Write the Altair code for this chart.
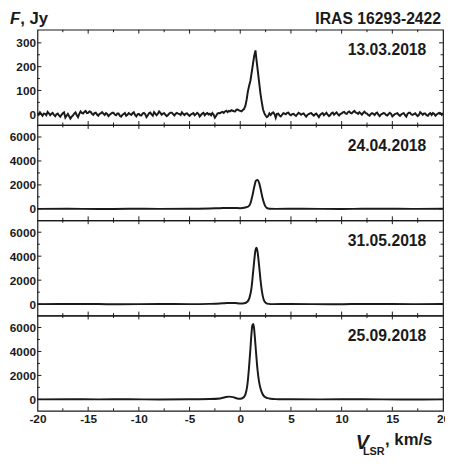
import altair as alt
import pandas as pd

FONT = "Liberation Sans"
INK = "#1a1a1a"
W, H = 413, 97

# ---- axis ticks / labels ----
X_LABELS = [-20, -15, -10, -5, 0, 5, 10, 15, 20]
X_TICK_MAJOR = [-15, -10, -5, 0, 5, 10, 15]
X_TICK_MINOR = [-17.5, -12.5, -7.5, -2.5, 2.5, 7.5, 12.5, 17.5]

Y1_MAJOR = [0, 100, 200, 300]
Y1_MINOR = [50, 150, 250]
Y1_DOMAIN = [-45, 355]
YB_MAJOR = [0, 2000, 4000, 6000]
YB_MINOR = [1000, 3000, 5000]
YB_DOMAIN = [-950, 7000]

DATES = ["13.03.2018", "24.04.2018", "31.05.2018", "25.09.2018"]
SOURCE = "IRAS 16293-2422"

# ---- spectrum 13.03.2018 : flux (Jy) on a 0.125 km/s channel grid from -20 km/s ----
P1_F = [
    5, -2, 8, 1, -6, 3, 2, -4,            # -20
    10, 4, -4, 2, 6, -3, -8, 0,           # -19
    3, -5, -10, -2, 4, 8, -14, -6,        # -18
    2, -8, -18, -10, -5, 3, 8, -4,        # -17
    -12, 2, 12, 6, 3, 10, 14, 5,          # -16
    6, 12, 10, 2, -2, 5, 7, -1,           # -15
    -6, 2, 4, 9, 3, -3, 5, 1,             # -14
    -8, -2, 2, 6, 6, -1, -4, 3,           # -13
    3, -6, -10, -3, 1, 5, -6, -2,         # -12
    5, 1, -3, 4, 8, -3, -9, 0,            # -11
    2, -4, -5, 3, 6, 1, -12, -5,          # -10
    4, 7, 0, -6, 9, 3, -4, 2,             # -9
    12, 6, -2, 3, 5, -2, -8, -3,          # -8
    3, 7, 7, 1, -5, 2, 6, 3,              # -7
    1, -3, 8, 2, -3, 3, 4, -2,            # -6
    -7, -1, 2, 5, -4, 0, 6, 2,            # -5
    -9, -3, 3, 6, -4, 2, 5, -1,           # -4
    2, -4, 5, -2, -14, -6, 3, 5,          # -3
    4, 8, 10, 6, 12, 15, 9, 14,           # -2
    12, 17, 15, 13, 12, 19, 20, 16,       # -1
    14, 12, 18, 22, 35, 60, 95, 120,      # 0
    140, 175, 210, 245, 268, 220, 175, 130,  # 1
    85, 50, 20, 5, -5, -12, -8, 4,        # 2
    -3, 4, 8, 1, -15, 2, 3, -5,           # 3
    -9, -2, 5, 3, 0, 6, 7, -1,            # 4
    -4, 1, 2, -3, -7, 0, 6, 3,            # 5
    -2, 2, 4, -4, -10, -3, 1, 4,          # 6
    5, -1, -6, 0, 3, -4, -12, -3,         # 7
    2, 5, -4, 1, 6, -2, -8, -3,           # 8
    4, 7, -2, 3, 8, 1, -5, 2,             # 9
    3, 8, 10, 4, 2, 9, 12, 6,             # 10
    4, 10, 14, 8, 6, 2, 9, 4,             # 11
    -2, 6, 11, 5, 3, -3, -6, 1,           # 12
    5, 2, -3, 4, 7, -2, -8, -1,           # 13
    2, 5, 4, -3, -5, 1, 6, 2,             # 14
    -9, -4, 1, 3, 5, -2, -7, -1,          # 15
    3, 5, -4, -10, 2, 6, 6, -1,           # 16
    -3, 1, 4, -2, -8, -3, 9, 4,           # 17
    -2, 3, 3, -4, -6, 1, 5, -3,           # 18
    5, 2, -6, -1, 3, 6, 5, -2,            # 19
    5,                                    # 20
]
P1_V = [-20 + 0.125 * i for i in range(len(P1_F))]

# ---- spectrum 24.04.2018 ----
P2_V = [-20, -17, -14, -11, -8, -5, -3, -2, -1, -0.5, 0, 0.5, 0.8, 1.0, 1.2, 1.4, 1.55,
        1.7, 1.85, 2.0, 2.2, 2.4, 2.6, 2.9, 3.5, 6, 10, 14, 17, 20]
P2_F = [0, 10, -10, 5, 0, 10, 30, 60, 80, 70, 60, 120, 200, 450, 1100, 1900, 2350,
        2420, 2200, 1700, 900, 350, 80, 10, 0, 5, -5, 10, 0, 5]

# ---- spectrum 31.05.2018 ----
P3_V = [-20, -16, -12, -8, -5, -3, -2, -1.5, -1, -0.5, 0, 0.4, 0.7, 0.9, 1.1, 1.25, 1.4,
        1.5, 1.6, 1.7, 1.85, 2.0, 2.15, 2.3, 2.5, 2.8, 3.2, 5, 9, 13, 17, 20]
P3_F = [0, 10, -5, 5, 0, 20, 50, 80, 100, 90, 60, 80, 200, 500, 1300, 2500, 3800,
        4500, 4700, 4400, 3300, 2000, 1000, 400, 120, 20, 0, 5, -5, 10, 0, 5]

# ---- spectrum 25.09.2018 ----
P4_V = [-20, -17, -14, -11, -8, -5, -3, -2, -1.5, -1.1, -0.7, -0.3, 0, 0.3, 0.5, 0.7,
        0.85, 1.0, 1.1, 1.2, 1.3, 1.4, 1.55, 1.7, 1.85, 2.0, 2.2, 2.4, 2.7, 3.0, 3.5,
        5, 8, 12, 16, 20]
P4_F = [0, 10, 0, 5, -5, 10, 30, 80, 180, 230, 190, 80, 60, 150, 400, 1200,
        2500, 4200, 5400, 6200, 6300, 5600, 4000, 2500, 1500, 900, 450, 220, 100, 50, 20,
        10, 0, 5, -5, 0]


def txt(s, x, y, size, align="right", style="normal"):
    return alt.Chart(pd.DataFrame({"t": [s]})).mark_text(
        align=align, baseline="alphabetic", font=FONT, fontSize=size,
        fontWeight="bold", fontStyle=style, color=INK
    ).encode(text="t:N", x=alt.value(x), y=alt.value(y))


def panel(v, f, ydom, ymaj, ymin, date, interp, stroke, top=False, bottom=False):
    xs = alt.Scale(domain=[-20, 20], nice=False, zero=False)
    ys = alt.Scale(domain=ydom, nice=False, zero=False)
    lab = dict(labelFont=FONT, labelFontSize=12, labelFontWeight="bold", labelColor=INK,
               ticks=False, domain=False, grid=False, title=None,
               labelOverlap=False, labelFlush=False, labelExpr="'' + datum.value")
    xa = alt.Axis(values=X_LABELS, labelPadding=3, **lab) if bottom else None
    ya = alt.Axis(values=ymaj, labelPadding=2, **lab)
    X = alt.X("v:Q", scale=xs, axis=xa)
    Y = alt.Y("f:Q", scale=ys, axis=ya)

    layers = [alt.Chart(pd.DataFrame({"v": v, "f": f})).mark_line(
        color=INK, strokeWidth=stroke, clip=True, interpolate=interp
    ).encode(x=X, y=Y)]

    for vals, L in ((X_TICK_MAJOR, 4), (X_TICK_MINOR, 2.5)):
        d = pd.DataFrame({"v": vals})
        layers.append(alt.Chart(d).mark_rule(color=INK, strokeWidth=1).encode(
            x=X, y=alt.value(0), y2=alt.value(L)))
        layers.append(alt.Chart(d).mark_rule(color=INK, strokeWidth=1).encode(
            x=X, y=alt.value(H), y2=alt.value(H - L)))
    for vals, L in ((ymaj, 4), (ymin, 2.5)):
        d = pd.DataFrame({"f": vals})
        layers.append(alt.Chart(d).mark_rule(color=INK, strokeWidth=1).encode(
            y=Y, x=alt.value(0), x2=alt.value(L)))
        layers.append(alt.Chart(d).mark_rule(color=INK, strokeWidth=1).encode(
            y=Y, x=alt.value(W), x2=alt.value(W - L)))

    layers.append(txt(date, W - 17, 26, 16))
    if top:
        layers.append(txt("F", -28, -6, 17, align="left", style="italic"))
        layers.append(txt(", Jy", -17.5, -6, 17, align="left"))
        layers.append(txt(SOURCE, W - 2, -6, 16))
    if bottom:
        layers.append(txt("V", 324, 136, 20, align="left", style="italic"))
        layers.append(txt("LSR", 331.5, 142, 11, align="left"))
        layers.append(txt(", km/s", 354, 132, 17, align="left"))
    return alt.layer(*layers).properties(width=W, height=H)


p1 = panel(P1_V, P1_F, Y1_DOMAIN, Y1_MAJOR, Y1_MINOR, DATES[0], "linear", 2, top=True)
p2 = panel(P2_V, P2_F, YB_DOMAIN, YB_MAJOR, YB_MINOR, DATES[1], "monotone", 2)
p3 = panel(P3_V, P3_F, YB_DOMAIN, YB_MAJOR, YB_MINOR, DATES[2], "monotone", 2)
p4 = panel(P4_V, P4_F, YB_DOMAIN, YB_MAJOR, YB_MINOR, DATES[3], "monotone", 2, bottom=True)

chart = alt.vconcat(p1, p2, p3, p4, spacing=0, bounds="flush").properties(
    padding={"left": 0, "top": -3, "right": -6, "bottom": -2}
).configure_view(stroke=INK, strokeWidth=1.2).configure_concat(spacing=0)

chart.save("out.html", embed_options={"renderer": "svg", "actions": False})
